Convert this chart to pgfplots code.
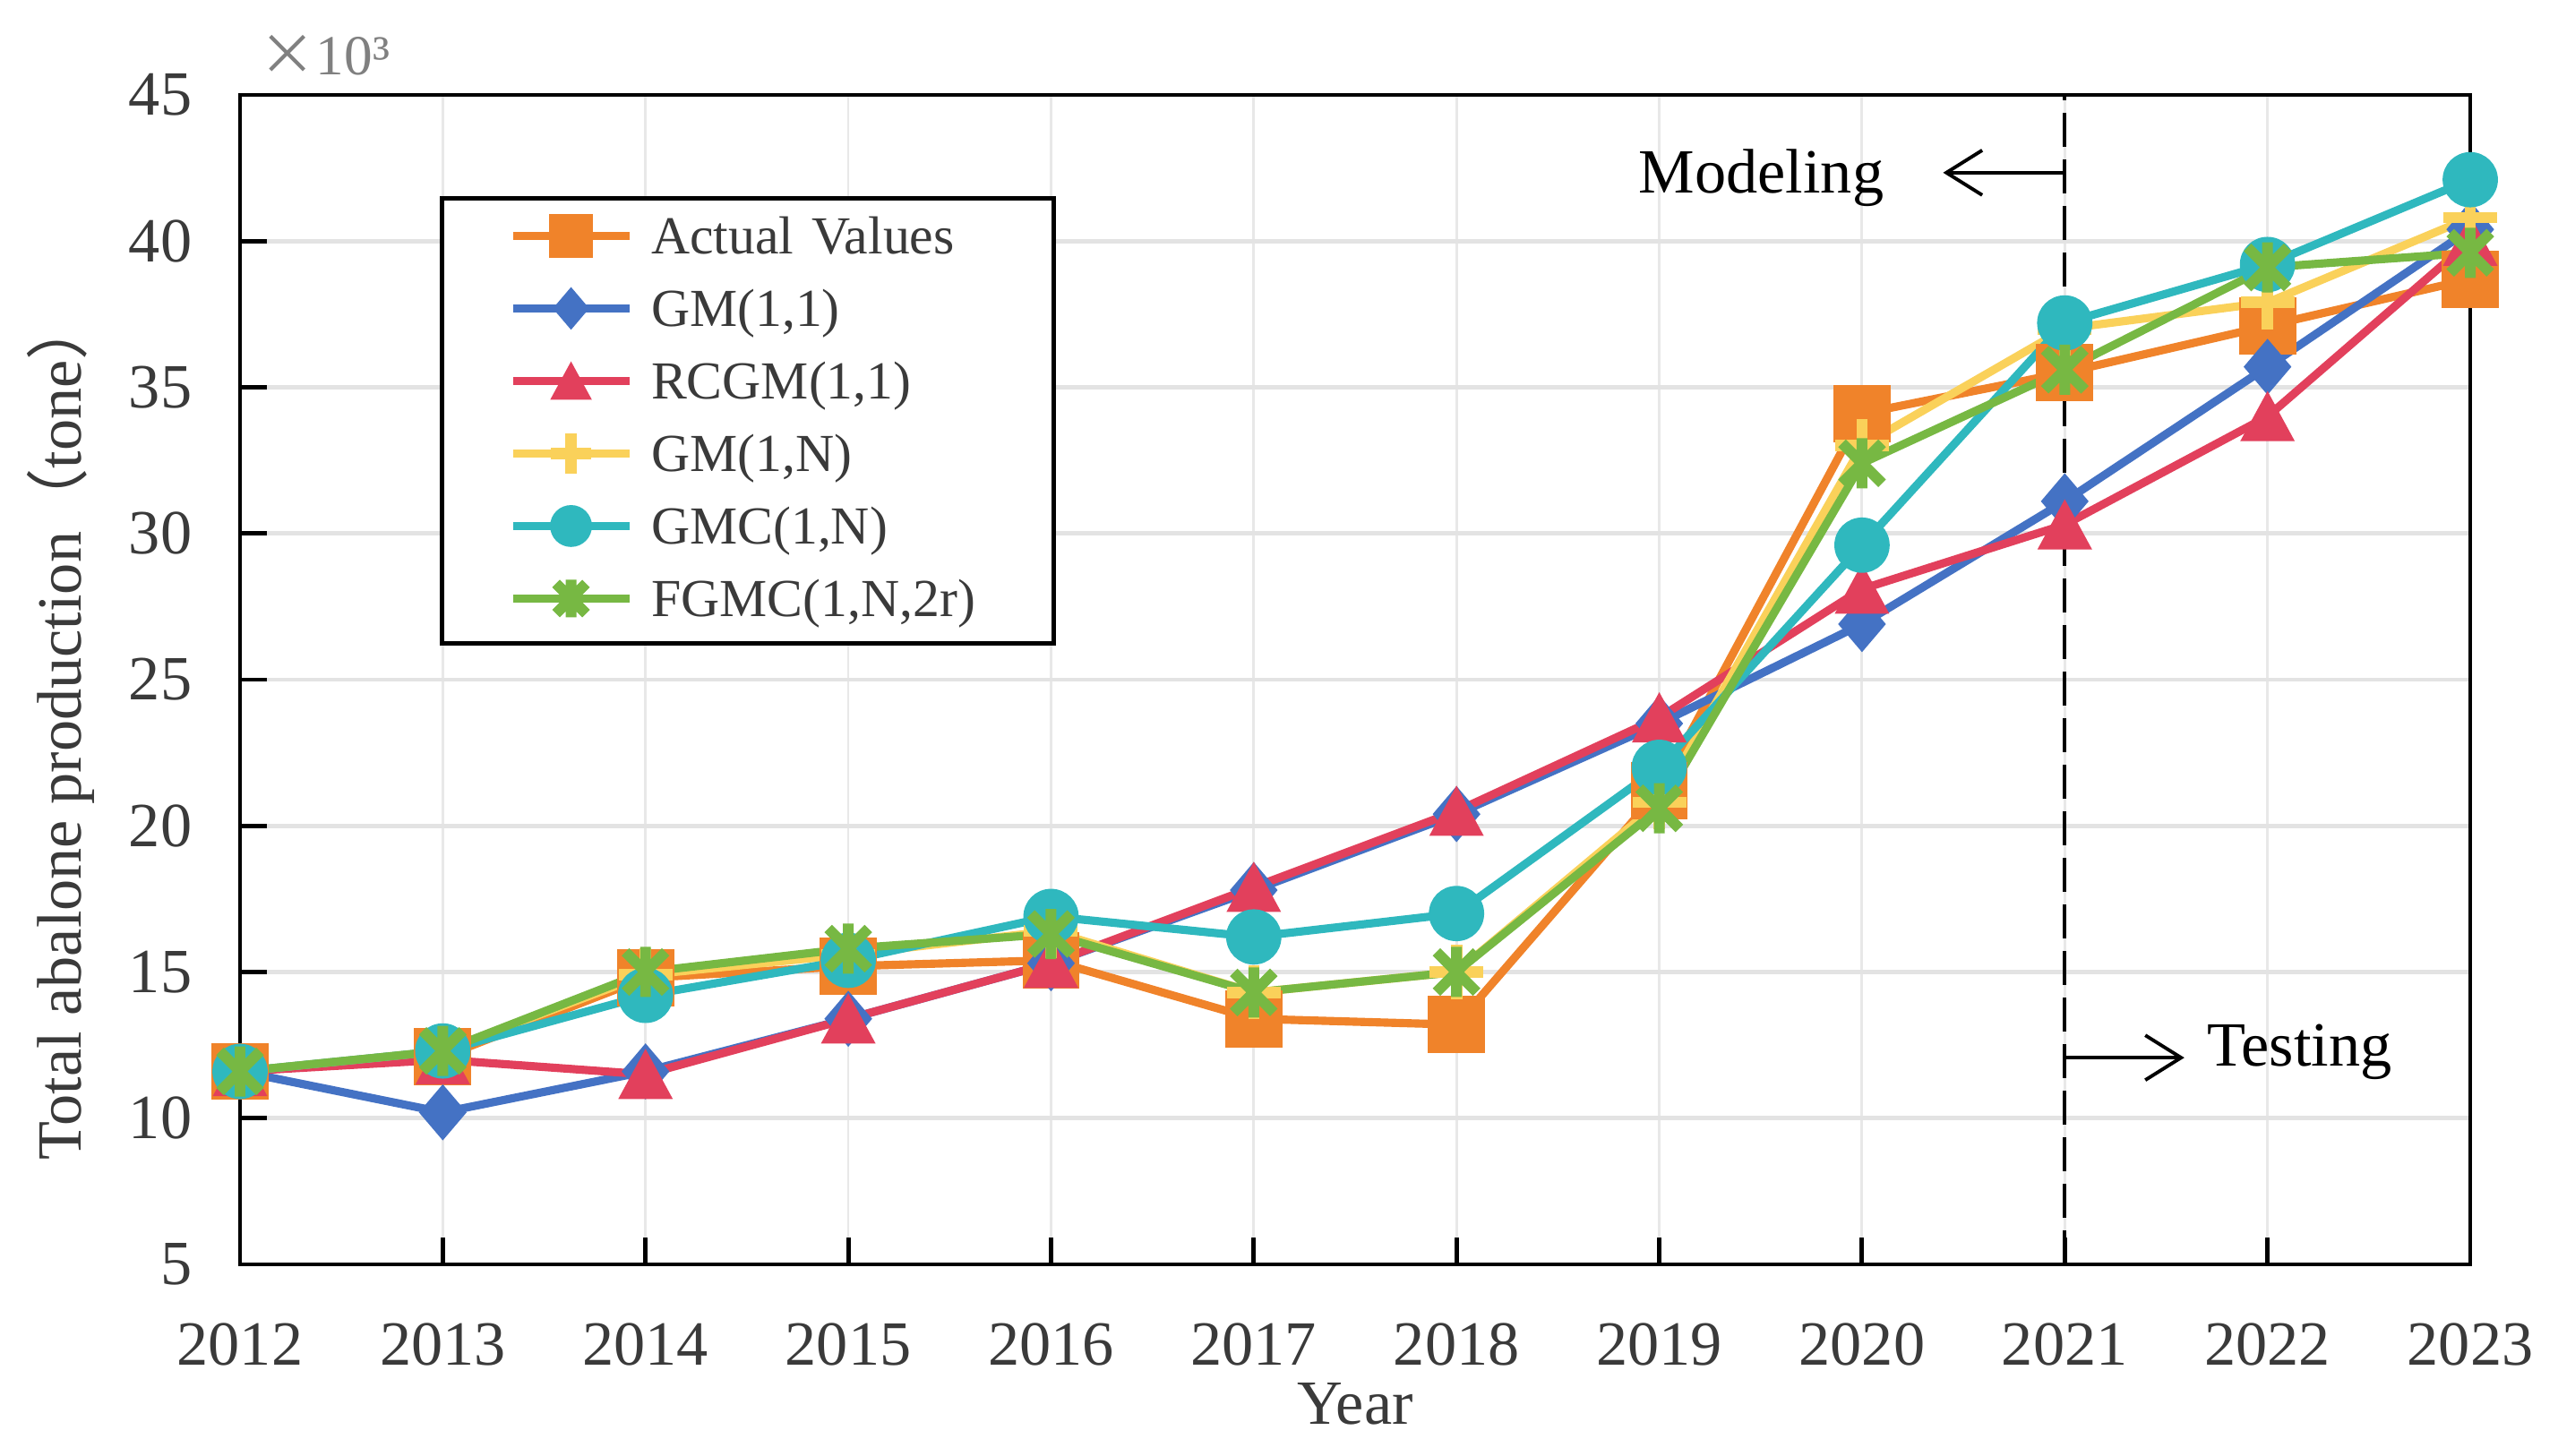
\documentclass[border=0pt]{standalone}
\usepackage{fontspec}
\setmainfont{Liberation Serif}
\newfontfamily\cjk{Noto Sans CJK SC}
\usepackage{pgfplots}
\usepackage{pgfplotstable}
\pgfplotsset{compat=1.18}
\usetikzlibrary{arrows.meta}

\definecolor{cAct}{HTML}{F0832A}
\definecolor{cGM}{HTML}{4472C4}
\definecolor{cRC}{HTML}{E2405C}
\definecolor{cGMN}{HTML}{FAD15A}
\definecolor{cGMC}{HTML}{2FB8BE}
\definecolor{cFG}{HTML}{77B843}
\definecolor{tickgray}{HTML}{3A3A3A}

\pgfdeclareplotmark{ctri}{%
 \pgfpathmoveto{\pgfqpoint{0pt}{.92\pgfplotmarksize}}%
 \pgfpathlineto{\pgfqpoint{-\pgfplotmarksize}{-.92\pgfplotmarksize}}%
 \pgfpathlineto{\pgfqpoint{\pgfplotmarksize}{-.92\pgfplotmarksize}}%
 \pgfpathclose\pgfusepathqfillstroke}
\pgfdeclareplotmark{cdia}{%
 \pgfpathmoveto{\pgfqpoint{0pt}{\pgfplotmarksize}}%
 \pgfpathlineto{\pgfqpoint{.85\pgfplotmarksize}{0pt}}%
 \pgfpathlineto{\pgfqpoint{0pt}{-\pgfplotmarksize}}%
 \pgfpathlineto{\pgfqpoint{-.85\pgfplotmarksize}{0pt}}%
 \pgfpathclose\pgfusepathqfillstroke}
\pgfdeclareplotmark{xstar}{%
 \pgfpathmoveto{\pgfqpoint{0pt}{\pgfplotmarksize}}\pgfpathlineto{\pgfqpoint{0pt}{-\pgfplotmarksize}}%
 \pgfpathmoveto{\pgfqpoint{-.8\pgfplotmarksize}{-.8\pgfplotmarksize}}\pgfpathlineto{\pgfqpoint{.8\pgfplotmarksize}{.8\pgfplotmarksize}}%
 \pgfpathmoveto{\pgfqpoint{-.8\pgfplotmarksize}{.8\pgfplotmarksize}}\pgfpathlineto{\pgfqpoint{.8\pgfplotmarksize}{-.8\pgfplotmarksize}}%
 \pgfusepathqstroke}

\pgfplotstableread{
year act  gm   rc   gmn  gmc  fg
2012 11.6 11.6 11.6 11.6 11.6 11.6
2013 12.1 10.2 12.0 12.3 12.3 12.3
2014 14.8 11.6 11.5 14.9 14.2 15.0
2015 15.2 13.4 13.4 15.6 15.4 15.8
2016 15.4 15.3 15.3 16.4 16.9 16.3
2017 13.4 17.8 17.9 14.3 16.2 14.3
2018 13.2 20.4 20.5 15.0 17.0 15.0
2019 21.2 23.5 23.7 20.8 22.0 20.6
2020 34.1 26.9 28.1 33.0 29.6 32.4
2021 35.5 31.1 30.3 37.0 37.2 35.6
2022 37.1 35.7 34.0 37.9 39.2 39.1
2023 38.7 40.4 40.0 40.8 42.1 39.6
}\data

\begin{document}
\begin{tikzpicture}
\path[use as bounding box] (-2.68cm,-2.14cm) rectangle (25.88cm,14.12cm);
\begin{axis}[
  at={(0,0)}, anchor=south west,
  scale only axis, width=24.90cm, height=13.06cm,
  xmin=2012, xmax=2023, ymin=5, ymax=45,
  xtick={2012,2013,...,2023}, ytick={5,10,...,45},
  /pgf/number format/assume math mode=true,
  x tick label style={/pgf/number format/1000 sep={}},
  tick label style={font=\fontsize{20}{24}\selectfont, text=tickgray},
  xticklabel style={anchor=base, yshift=-1.12cm},
  yticklabel style={anchor=east, inner sep=0pt, xshift=-0.53cm},
  tick align=inside, xtick pos=left, ytick pos=left,
  major tick length=0.3cm,
  every tick/.style={black, line width=1.4pt},
  axis line style={black, line width=1.4pt},
  grid=major,
  major x grid style={gray!18, line width=0.8pt},
  major y grid style={gray!22, line width=1.3pt},
  xlabel={Year},
  ylabel={Total abalone production{\cjk （}tone{\cjk ）}},
  xlabel style={font=\fontsize{20}{24}\selectfont, text=tickgray, at={(axis description cs:0.5,0)}, anchor=base, yshift=-1.78cm, inner sep=0pt},
  ylabel style={font=\fontsize{20}{24}\selectfont, text=tickgray, at={(axis description cs:-0.0803,0.458)}, anchor=center, inner sep=0pt},
  clip=false,
  legend style={at={(0.0896,0.9135)}, anchor=north west, draw=black, line width=1.4pt, fill=white,
    inner xsep=0pt, inner ysep=0.1cm, row sep=0.09cm, column sep=0.2cm,
    font=\fontsize{17}{20}\selectfont, text=tickgray,
    nodes={inner sep=0pt, anchor=base west, text height=0.52cm, text depth=0.2cm, text width=4.49cm}},
  legend image code/.code={%
    \path[draw=none, fill=none] (0cm,0cm) (2.09cm,0.2cm);
    \draw[mark repeat=2, mark phase=2, #1, every mark/.append style={scale=0.75}] plot coordinates {(0.79cm,0.2cm) (1.44cm,0.2cm) (2.09cm,0.2cm)};
  },
]
\addplot[color=cAct, line width=2.6pt, mark=square*, mark size=0.31cm, mark options={solid, fill=cAct, draw=cAct, line width=0.5pt}] table[x=year,y=act]{\data};
\addlegendentry{Actual Values}
\addplot[color=cGM, line width=2.6pt, mark=cdia, mark size=0.3cm, mark options={solid, fill=cGM, draw=cGM, line width=0.5pt}] table[x=year,y=gm]{\data};
\addlegendentry{GM(1,1)}
\addplot[color=cRC, line width=2.6pt, mark=ctri, mark size=0.29cm, mark options={solid, fill=cRC, draw=cRC, line width=0.5pt}] table[x=year,y=rc]{\data};
\addlegendentry{RCGM(1,1)}
\addplot[color=cGMN, line width=2.6pt, mark=+, mark size=0.3cm, mark options={solid, draw=cGMN, line width=3.6pt}] table[x=year,y=gmn]{\data};
\addlegendentry{GM(1,N)}
\addplot[color=cGMC, line width=2.6pt, mark=*, mark size=0.3cm, mark options={solid, fill=cGMC, draw=cGMC, line width=0.5pt}] table[x=year,y=gmc]{\data};
\addlegendentry{GMC(1,N)}
\addplot[color=cFG, line width=2.6pt, mark=xstar, mark size=0.28cm, mark options={solid, draw=cFG, line width=3.4pt}] table[x=year,y=fg]{\data};
\addlegendentry{FGMC(1,N,2r)}

\draw[black, line width=1.1pt, dash pattern=on 0.38cm off 0.14cm] (axis cs:2021,5) -- (axis cs:2021,45);
\draw[black, line width=1.1pt, -{Straight Barb[length=0.4cm,width=0.5cm]}] (axis cs:2021,42.34) -- (axis cs:2020.40,42.34);
\node[anchor=base east, inner sep=0pt, font=\fontsize{20}{24}\selectfont] at (axis cs:2020.11,41.66) {Modeling};
\draw[black, line width=1.1pt, -{Straight Barb[length=0.4cm,width=0.5cm]}] (axis cs:2021,12.07) -- (axis cs:2021.59,12.07);
\node[anchor=base west, inner sep=0pt, font=\fontsize{20}{24}\selectfont] at (axis cs:2021.70,11.77) {Testing};
\node[anchor=base west, inner sep=0pt, xshift=0.21cm, yshift=0.22cm, font=\fontsize{18}{20}\selectfont, text=gray] at (rel axis cs:0,1) {{\cjk ×}10³};
\end{axis}
\end{tikzpicture}
\end{document}
